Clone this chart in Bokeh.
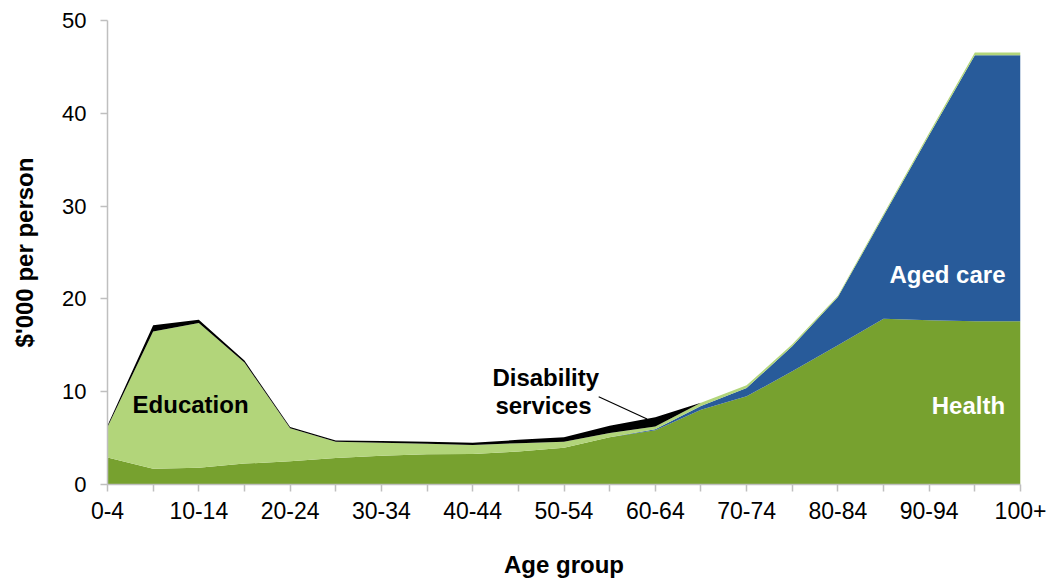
from bokeh.plotting import figure
from bokeh.models import Range1d, FixedTicker, ColumnDataSource
from bokeh.core.properties import value
from bokeh.embed import file_html
from bokeh.resources import INLINE

age_groups = ["0-4", "5-9", "10-14", "15-19", "20-24", "25-29", "30-34", "35-39",
              "40-44", "45-49", "50-54", "55-59", "60-64", "65-69", "70-74", "75-79",
              "80-84", "85-89", "90-94", "95-99", "100+"]
health = [2.9, 1.7, 1.8, 2.25, 2.5, 2.85, 3.1, 3.25, 3.3, 3.55, 3.95, 5.1, 5.85,
          8.05, 9.5, 12.2, 15.0, 17.85, 17.7, 17.6, 17.6]
aged_care = [0, 0, 0, 0, 0, 0, 0, 0, 0, 0, 0, 0, 0.1, 0.4, 0.9, 2.7, 5.2, 11.1,
             19.95, 28.65, 28.65]
education = [3.3, 14.8, 15.6, 10.9, 3.55, 1.75, 1.4, 1.15, 0.95, 0.9, 0.65, 0.45,
             0.3, 0.35, 0.3, 0.2, 0.15, 0.2, 0.25, 0.3, 0.3]
disability = [0.15, 0.65, 0.35, 0.2, 0.15, 0.15, 0.18, 0.22, 0.25, 0.36, 0.5, 0.78,
              1.0, 0, 0, 0, 0, 0, 0, 0, 0]

FONT = "Liberation Sans"
C_HEALTH = "#77A12F"
C_AGED = "#285B9A"
C_EDU = "#B2D57A"
C_DIS = "#000000"

src = ColumnDataSource(dict(x=list(range(len(age_groups))), health=health,
                            aged=aged_care, edu=education, dis=disability))

p = figure(width=1046, height=580, output_backend="svg", toolbar_location=None,
           x_range=Range1d(0, len(age_groups) - 1), y_range=Range1d(0, 50),
           min_border_left=107, min_border_right=26, min_border_top=20, min_border_bottom=95)

p.varea_stack(stackers=["health", "aged", "edu", "dis"], x="x",
              color=[C_HEALTH, C_AGED, C_EDU, C_DIS], source=src)

p.outline_line_color = None
p.grid.grid_line_color = None
p.background_fill_color = "white"

p.xaxis.ticker = FixedTicker(ticks=list(range(len(age_groups))))
p.xaxis.major_label_overrides = {i: (lab if i % 2 == 0 else "") for i, lab in enumerate(age_groups)}
p.yaxis.ticker = FixedTicker(ticks=[0, 10, 20, 30, 40, 50])
for ax in (p.xaxis, p.yaxis):
    ax.axis_line_color = "#BFBFBF"
    ax.axis_line_width = 1.5
    ax.major_tick_line_color = "#BFBFBF"
    ax.major_tick_line_width = 1.5
    ax.major_tick_in = 0
    ax.major_tick_out = 7
    ax.minor_tick_line_color = None
    ax.major_label_text_font = FONT
    ax.major_label_text_color = "black"
    ax.axis_label_text_font = FONT
    ax.axis_label_text_font_size = "24px"
    ax.axis_label_text_font_style = "bold"
    ax.axis_label_text_color = "black"

p.xaxis.major_label_text_font_size = "23px"
p.yaxis.major_label_text_font_size = "22px"
p.xaxis.axis_label = "Age group"
p.yaxis.axis_label = "$'000 per person"
p.xaxis.major_label_standoff = 10
p.xaxis.axis_label_standoff = 29
p.yaxis.major_label_standoff = 14
p.yaxis.axis_label_standoff = 21

# annotations
p.text(x=[1.82], y=[8.6], text=["Education"], text_font=value(FONT), text_font_style="bold",
       text_font_size="24px", text_align="center", text_baseline="middle", text_color="black")
p.text(x=[9.6, 9.55], y=[11.5, 8.5], text=["Disability", "services"], text_font=value(FONT),
       text_font_style="bold", text_font_size="24px", text_align="center",
       text_baseline="middle", text_color="black")
p.segment(x0=[10.76], y0=[9.46], x1=[11.82], y1=[7.06], line_color="black", line_width=1.2)
p.text(x=[18.4], y=[22.6], text=["Aged care"], text_font=value(FONT), text_font_style="bold",
       text_font_size="24px", text_align="center", text_baseline="middle", text_color="white")
p.text(x=[18.86], y=[8.5], text=["Health"], text_font=value(FONT), text_font_style="bold",
       text_font_size="24px", text_align="center", text_baseline="middle", text_color="white")

open("out.html", "w").write(file_html(p, INLINE))
